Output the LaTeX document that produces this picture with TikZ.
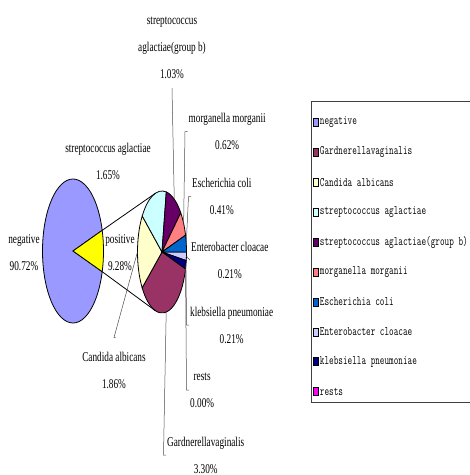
\documentclass[tikz,border=0pt]{standalone}
\usepackage{fontspec}
\usepackage{tikz}
\usetikzlibrary{positioning}
\newfontfamily\lblfont[FakeStretch=0.69]{Liberation Serif}
\definecolor{cneg}{HTML}{9999FF}
\definecolor{cpos}{HTML}{FFFF00}
\definecolor{cgard}{HTML}{993366}
\definecolor{ccand}{HTML}{FFFFCC}
\definecolor{cstrep}{HTML}{CCFFFF}
\definecolor{cgrpb}{HTML}{660066}
\definecolor{cmorg}{HTML}{FF8080}
\definecolor{ceco}{HTML}{0066CC}
\definecolor{cent}{HTML}{CCCCFF}
\definecolor{ckleb}{HTML}{000080}
\definecolor{crest}{HTML}{FF00FF}

\begin{document}
\begin{tikzpicture}
  [x=1pt,y=-1pt,
   slice/.style={draw=black,line width=0.8pt},
   lbl/.style={font=\lblfont\fontsize{13.4}{27}\selectfont,align=center,inner sep=1pt},
   leader/.style={draw=black!70,line width=0.5pt},
   legsq/.style={draw=black,line width=0.6pt,minimum width=5pt,minimum height=8pt,inner sep=0pt},
   legtext/.style={font=\ttfamily\fontsize{13}{13}\selectfont,xscale=0.69,inner sep=0pt}]
  \useasboundingbox (0,0) rectangle (470,475);

  % first pie
  \coordinate (big) at (73,251);
  \filldraw[slice,fill=cneg] (big) -- ++(16.7:30.5 and 72) arc[start angle=16.7,end angle=343.3,x radius=30.5,y radius=72] -- cycle;
  \filldraw[slice,fill=cpos] (big) -- ++(-16.7:30.5 and 72) arc[start angle=-16.7,end angle=16.7,x radius=30.5,y radius=72] -- cycle;
  \path (big) ++(-16.7:30.5 and 72) coordinate (posTop);
  \path (big) ++(16.7:30.5 and 72) coordinate (posBot);

  % second pie
  \coordinate (small) at (162,252);
  \foreach \a/\b/\c in {0/8.1/cent,8.1/16.2/ckleb,16.2/144.1/cgard,144.1/216.2/ccand,
                        216.2/280.1/cstrep,280.1/320/cgrpb,320/344/cmorg,344/360/ceco}
    \filldraw[slice,fill=\c] (small) -- ++(\a:24.5 and 61) arc[start angle=\a,end angle=\b,x radius=24.5,y radius=61] -- cycle;
  \path (small) ++(254.4:24.5 and 61) coordinate (smTop);
  \path (small) ++(105.6:24.5 and 61) coordinate (smBot);
  \draw[line width=0.8pt] (posTop) -- (smTop);
  \draw[line width=0.8pt] (posBot) -- (smBot);

  \path (small) ++(180.15:24.5 and 61) coordinate (pCand);
  \path (small) ++(300:24.5 and 61) coordinate (pGrpb);
  \path (small) ++(332:24.5 and 61) coordinate (pMorg);
  \path (small) ++(352:24.5 and 61) coordinate (pEco);
  \path (small) ++(4:24.5 and 61) coordinate (pEnt);
  \path (small) ++(12.15:24.5 and 61) coordinate (pKleb);
  \path (small) ++(16.2:24.5 and 61) coordinate (pRest);
  \path (small) ++(80.15:24.5 and 61) coordinate (pGard);

  % labels
  \node[lbl] (neg) at (24,252.5) {negative\\90.72\%};
  \node[lbl] (pos) at (120,252.5) {positive\\9.28\%};
  \node[lbl] (strep) at (108,161.5) {streptococcus aglactiae\\1.65\%};
  \node[lbl] (grpb) at (172,48) {streptococcus\\aglactiae(group b)\\1.03\%};
  \node[lbl,anchor=west] (morg) at (187.5,131.5) {morganella morganii\\0.62\%};
  \node[lbl,anchor=west] (eco) at (191,196.5) {Escherichia coli\\0.41\%};
  \node[lbl,anchor=west] (ent) at (190,260) {Enterobacter cloacae\\0.21\%};
  \node[lbl,anchor=west] (kleb) at (189,325) {klebsiella pneumoniae\\0.21\%};
  \node[lbl,anchor=west] (rest) at (189,390) {rests\\0.00\%};
  \node[lbl,anchor=west] (gard) at (166,455) {Gardnerellavaginalis\\3.30\%};
  \node[lbl] (cand) at (114,370) {Candida albicans\\1.86\%};

  % leader lines
  \draw[leader] (pGrpb) -- ([yshift=-8pt]grpb.south);
  \draw[leader] (pMorg) -- ([xshift=-2.5pt]morg.west) -- (morg.west);
  \draw[leader] (pEco) -- ([xshift=-2.5pt]eco.west) -- (eco.west);
  \draw[leader] (pEnt) -- (ent.west);
  \draw[leader] (pKleb) -- ([xshift=-2.5pt]kleb.west) -- (kleb.west);
  \draw[leader] (pRest) -- ([xshift=-2.5pt]rest.west) -- (rest.west);
  \draw[leader] (pGard) -- ([xshift=-2.5pt]gard.west) -- (gard.west);
  \draw[leader] (pCand) -- ([yshift=13pt]cand.north) -- ++(1.5,0);

  % legend (box runs out past the right edge)
  \draw[draw=black!75,line width=1pt] (480,101) -- (311,101) -- (311,402) -- (480,402);
  \foreach \t/\c [count=\i from 0] in {negative/cneg,Gardnerellavaginalis/cgard,Candida albicans/ccand,
      streptococcus aglactiae/cstrep,streptococcus aglactiae(group b)/cgrpb,morganella morganii/cmorg,
      Escherichia coli/ceco,Enterobacter cloacae/cent,klebsiella pneumoniae/ckleb,rests/crest}
  {
    \node[legsq,fill=\c] (sq\i) at (315.5,{122.5+29.9*\i}) {};
    \node[legtext,anchor=west] (lt\i) at ([xshift=1.5pt]sq\i.east) {\t};
  }
\end{tikzpicture}
\end{document}
